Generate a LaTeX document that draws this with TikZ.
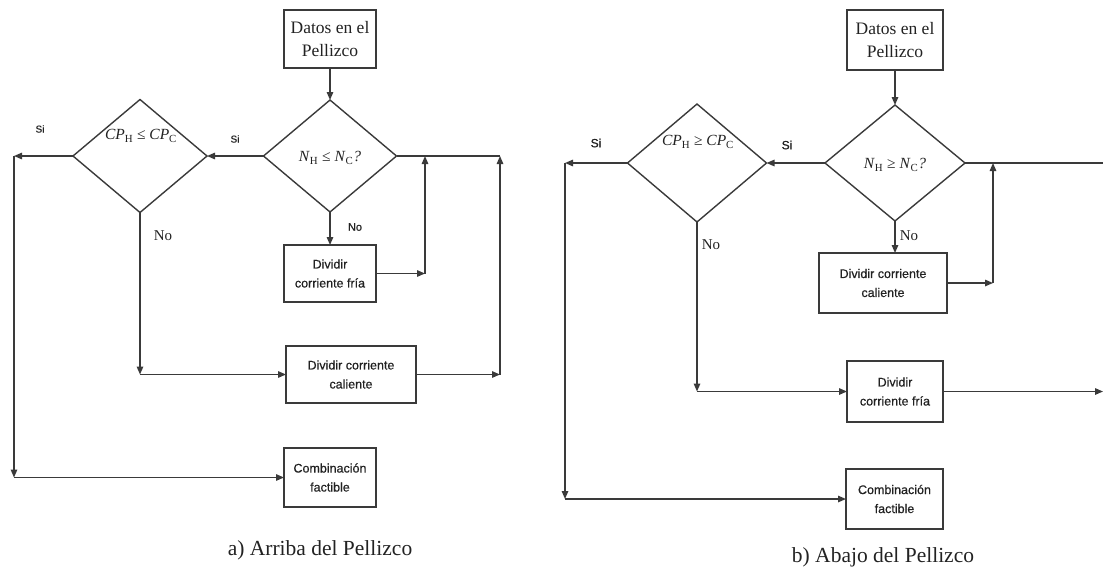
\documentclass[tikz,border=0pt]{standalone}
\usepackage{fontspec}
\setmainfont{Liberation Serif}
\setsansfont{Liberation Sans}
\newfontfamily\boxfont[FakeBold=0.6]{Liberation Sans}
\usetikzlibrary{shapes.geometric,arrows.meta}
\definecolor{lc}{HTML}{3A3A3A}
\definecolor{tc}{HTML}{222222}
% italic variable with an upright subscript
\newcommand\varsub[2]{\textit{#1}\textsubscript{#2}}

\begin{document}
\begin{tikzpicture}[x=1pt,y=-1pt,
  every node/.style={inner sep=0pt, outer sep=0pt, text=tc},
  line/.style={draw=lc, line width=1.4pt},
  arr/.style={line, -{Triangle[length=8pt,width=6.5pt]}},
  box/.style={draw=lc, line width=1.4pt, rectangle, align=center},
  dec/.style={draw=lc, line width=1.4pt, diamond},
  serifbox/.style={box, font=\fontsize{17.5}{23}\selectfont},
  sansbox/.style={box, font=\boxfont\fontsize{12.5}{19}\selectfont},
  cond/.style={font=\fontsize{15.5}{17}\selectfont},
  smallsans/.style={font=\boxfont\fontsize{10}{12}\selectfont},
  serifno/.style={font=\fontsize{15}{17}\selectfont},
  caption/.style={font=\fontsize{21.5}{26}\selectfont}
]
\useasboundingbox (0,0) rectangle (1103,571);

% ---------------- a) Arriba del Pellizco ----------------
\node[serifbox, minimum width=92pt, minimum height=58pt] (da) at (330,39) {Datos en el\\Pellizco};
\node[dec, minimum width=133pt, minimum height=112pt] (na) at (330,156) {};
\node[cond] (nat) at (330,158) {\varsub{N}{H} ≤ \varsub{N}{C}\textit{?}};
\node[dec, minimum width=134pt, minimum height=113pt] (cpa) at (140,156) {};
\node[cond] (cpat) at (141,136) {\varsub{CP}{H} ≤ \varsub{CP}{C}};
\node[sansbox, minimum width=92pt, minimum height=57pt] (fra) at (330,273.5) {Dividir\\corriente fría};
\node[sansbox, minimum width=130pt, minimum height=57pt] (caa) at (351,374.5) {Dividir corriente\\caliente};
\node[sansbox, minimum width=92pt, minimum height=59pt] (coa) at (330,477.5) {Combinación\\factible};

\coordinate (la1) at (14,156);
\coordinate (la2) at (14,477.5);
\coordinate (ra1) at (425,273.5);
\coordinate (ra2) at (425,156);
\coordinate (ra3) at (500,156);
\coordinate (ra4) at (500,374.5);
\coordinate (ca1) at (140,374.5);

\draw[arr] (da) -- (na.north);
\draw[arr] (na.west) -- (cpa.east);
\draw[arr] (cpa.west) -- (la1);
\draw[arr] (la1) -- (la2);
\draw[arr] (la2) -- (coa.west);
\draw[arr] (na.south) -- (fra.north);
\draw[arr] (fra.east) -- (ra1);
\draw[arr] (ra1) -- (ra2);
\draw[line] (na.east) -- (ra3);
\draw[arr] (cpa.south) -- (ca1);
\draw[arr] (ca1) -- (caa.west);
\draw[arr] (caa.east) -- (ra4);
\draw[arr] (ra4) -- (ra3);

\node[smallsans] (sa1) at (40,129) {Si};
\node[smallsans] (sa2) at (235,139) {Si};
\node[serifno] (noa1) at (163,236) {No};
\node[smallsans, font=\boxfont\fontsize{11}{12}\selectfont] (noa2) at (355,227) {No};
\node[caption] (capa) at (320,550) {a) Arriba del Pellizco};

% ---------------- b) Abajo del Pellizco ----------------
\node[serifbox, minimum width=96pt, minimum height=60pt] (db) at (895,40) {Datos en el\\Pellizco};
\node[dec, minimum width=140pt, minimum height=116pt] (nb) at (895,163) {};
\node[cond] (nbt) at (895,165) {\varsub{N}{H} ≥ \varsub{N}{C}\textit{?}};
\node[dec, minimum width=139pt, minimum height=118pt] (cpb) at (697,163) {};
\node[cond] (cpbt) at (698,142) {\varsub{CP}{H} ≥ \varsub{CP}{C}};
\node[sansbox, minimum width=128pt, minimum height=60pt] (cab) at (883,283) {Dividir corriente\\caliente};
\node[sansbox, minimum width=96pt, minimum height=61pt] (frb) at (895,391.5) {Dividir\\corriente fría};
\node[sansbox, minimum width=97pt, minimum height=60pt] (cob) at (894.5,499) {Combinación\\factible};

\coordinate (lb1) at (565,163);
\coordinate (lb2) at (565,499);
\coordinate (rb1) at (993,283);
\coordinate (rb2) at (993,163);
\coordinate (rb3) at (1103,163);
\coordinate (cb1) at (697,391.5);
\coordinate (fb1) at (1103,391.5);

\draw[arr] (db) -- (nb.north);
\draw[arr] (nb.west) -- (cpb.east);
\draw[arr] (cpb.west) -- (lb1);
\draw[arr] (lb1) -- (lb2);
\draw[arr] (lb2) -- (cob.west);
\draw[arr] (nb.south) -- (nb.south |- cab.north);
\draw[arr] (cab.east) -- (rb1);
\draw[arr] (rb1) -- (rb2);
\draw[line] (nb.east) -- (rb3);
\draw[arr] (cpb.south) -- (cb1);
\draw[arr] (cb1) -- (frb.west);
\draw[arr] (frb.east) -- (fb1);

\node[smallsans, font=\boxfont\fontsize{12}{14}\selectfont] (sb1) at (596,143) {Si};
\node[smallsans, font=\boxfont\fontsize{12}{14}\selectfont] (sb2) at (787,145) {Si};
\node[serifno] (nob1) at (711,245) {No};
\node[serifno] (nob2) at (909,236) {No};
\node[caption] (capb) at (883,557) {b) Abajo del Pellizco};
\end{tikzpicture}
\end{document}
